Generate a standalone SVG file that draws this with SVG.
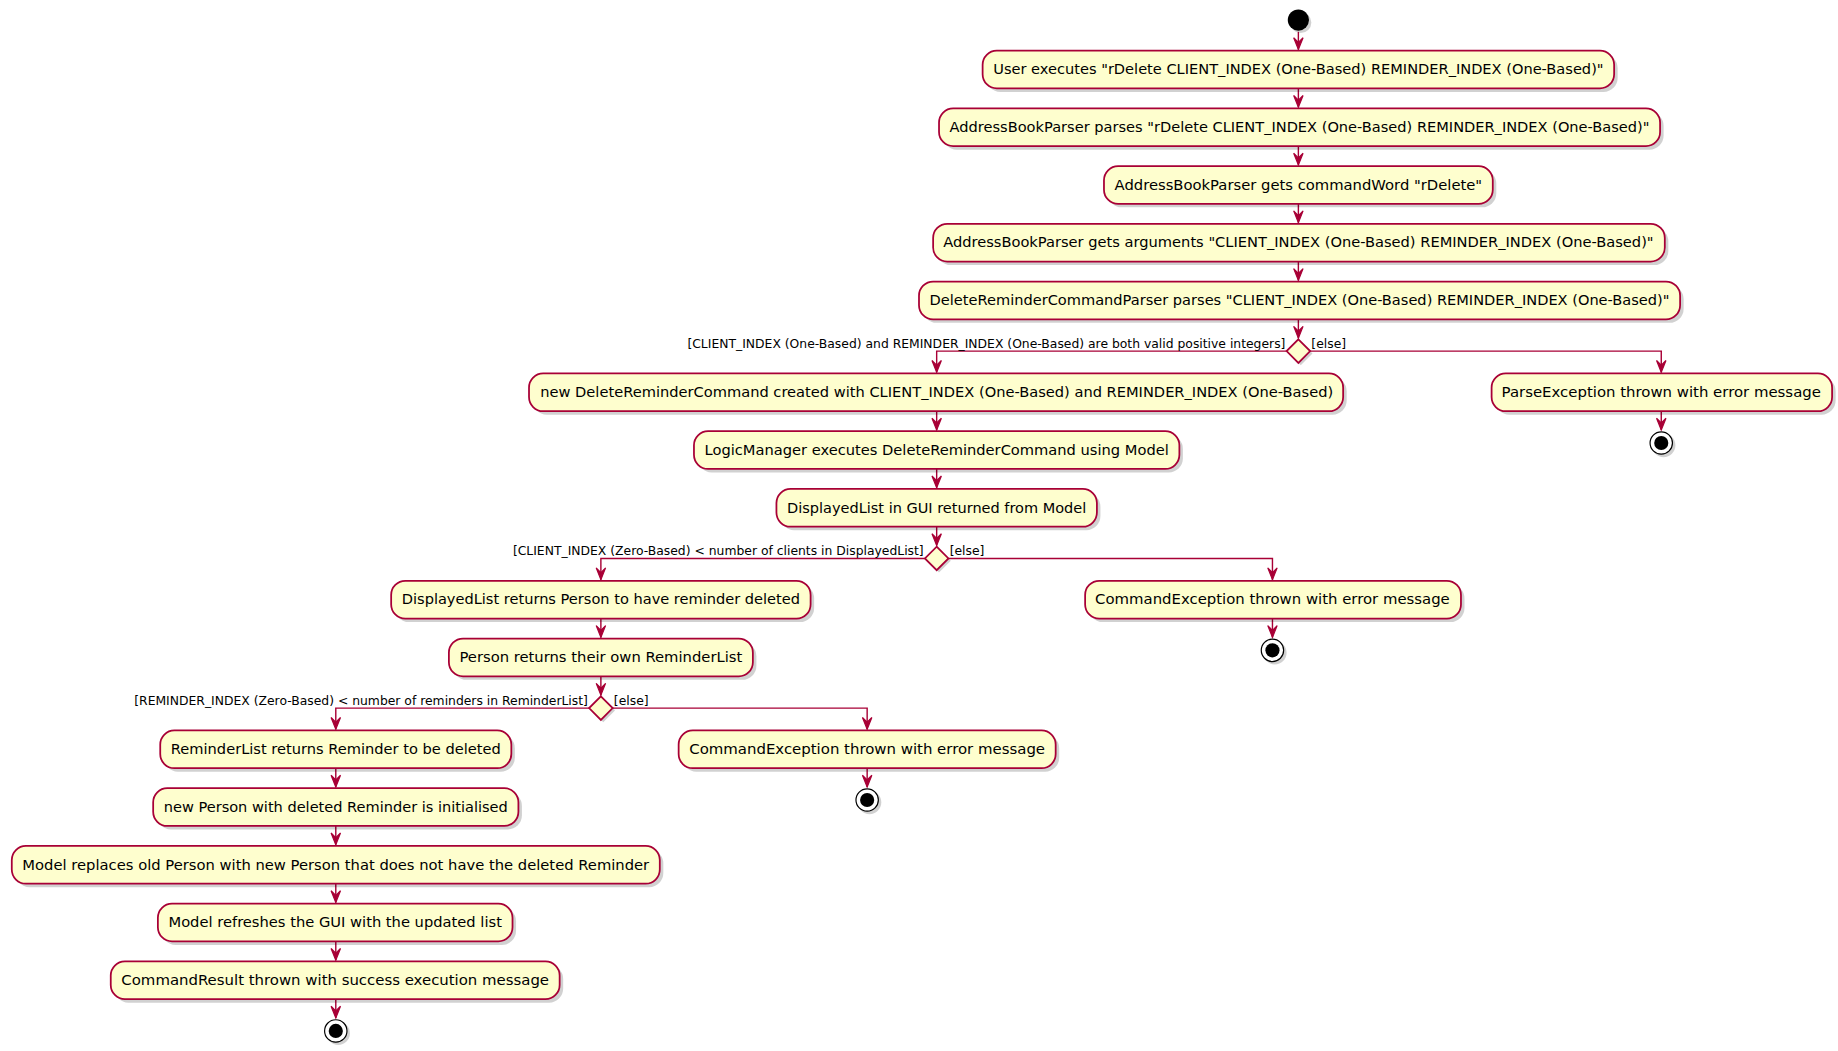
<svg xmlns="http://www.w3.org/2000/svg" width="1838" height="1051" viewBox="0 0 1838 1051">
<defs>
<style>
.b{fill:#FEFECE;stroke:#A80036;stroke-width:1.5}
.s{fill:#000;opacity:0.18}
.t{font-family:"DejaVu Sans",sans-serif;font-size:12px;fill:#000;text-anchor:middle}
.l{font-family:"DejaVu Sans",sans-serif;font-size:10.5px;fill:#000}
.c{fill:none;stroke:#A80036;stroke-width:1.2}
</style>
<marker id="a" viewBox="-11 -5 12 10" refX="0" refY="0" markerWidth="12" markerHeight="10" markerUnits="userSpaceOnUse" orient="auto">
<path d="M-10,-4 L0,0 L-10,4 L-6,0 Z" fill="#A80036" stroke="#A80036"/>
</marker>
</defs>
<rect width="1838" height="1051" fill="#fff"/>
<g transform="scale(1.1782)">
<g id="connectors">
<path class="c" d="M1102,27 V42" marker-end="url(#a)"/>
<path class="c" d="M1102,75 V91" marker-end="url(#a)"/>
<path class="c" d="M1102,124 V140" marker-end="url(#a)"/>
<path class="c" d="M1102,173 V189" marker-end="url(#a)"/>
<path class="c" d="M1102,222 V238" marker-end="url(#a)"/>
<path class="c" d="M1102,271 V287" marker-end="url(#a)"/>
<path class="c" d="M1092,298 H795 V316" marker-end="url(#a)"/>
<path class="c" d="M1112,298 H1410 V316" marker-end="url(#a)"/>
<path class="c" d="M1410,349 V365" marker-end="url(#a)"/>
<path class="c" d="M795,349 V365" marker-end="url(#a)"/>
<path class="c" d="M795,398 V414" marker-end="url(#a)"/>
<path class="c" d="M795,447 V463" marker-end="url(#a)"/>
<path class="c" d="M785,474 H510 V492" marker-end="url(#a)"/>
<path class="c" d="M805,474 H1080 V492" marker-end="url(#a)"/>
<path class="c" d="M1080,525 V541" marker-end="url(#a)"/>
<path class="c" d="M510,525 V541" marker-end="url(#a)"/>
<path class="c" d="M510,574 V590" marker-end="url(#a)"/>
<path class="c" d="M500,601 H285 V619" marker-end="url(#a)"/>
<path class="c" d="M520,601 H736 V619" marker-end="url(#a)"/>
<path class="c" d="M736,652 V668" marker-end="url(#a)"/>
<path class="c" d="M285,652 V668" marker-end="url(#a)"/>
<path class="c" d="M285,701 V717" marker-end="url(#a)"/>
<path class="c" d="M285,750 V766" marker-end="url(#a)"/>
<path class="c" d="M285,799 V815" marker-end="url(#a)"/>
<path class="c" d="M285,848 V864" marker-end="url(#a)"/>
<text class="l" x="1091" y="295" text-anchor="end">[CLIENT_INDEX (One-Based) and REMINDER_INDEX (One-Based) are both valid positive integers]</text>
<text class="l" x="1113" y="295">[else]</text>
<text class="l" x="784" y="471" text-anchor="end">[CLIENT_INDEX (Zero-Based) &lt; number of clients in DisplayedList]</text>
<text class="l" x="806" y="471">[else]</text>
<text class="l" x="499" y="598" text-anchor="end">[REMINDER_INDEX (Zero-Based) &lt; number of reminders in ReminderList]</text>
<text class="l" x="521" y="598">[else]</text>
</g>
<g id="start"><circle cx="1104" cy="19" r="9" class="s"/><circle cx="1102" cy="17" r="9" fill="#000"/></g>
<g id="n1"><rect class="s" x="837" y="46" width="536" height="32" rx="12"/><rect class="b" x="834" y="43" width="536" height="32" rx="12"/><text class="t" x="1102" y="63" textLength="518" lengthAdjust="spacingAndGlyphs">User executes "rDelete CLIENT_INDEX (One-Based) REMINDER_INDEX (One-Based)"</text></g>
<g id="n2"><rect class="s" x="800" y="95" width="612" height="32" rx="12"/><rect class="b" x="797" y="92" width="612" height="32" rx="12"/><text class="t" x="1103" y="112" textLength="594" lengthAdjust="spacingAndGlyphs">AddressBookParser parses "rDelete CLIENT_INDEX (One-Based) REMINDER_INDEX (One-Based)"</text></g>
<g id="n3"><rect class="s" x="940" y="144" width="330" height="32" rx="12"/><rect class="b" x="937" y="141" width="330" height="32" rx="12"/><text class="t" x="1102" y="161" textLength="312" lengthAdjust="spacingAndGlyphs">AddressBookParser gets commandWord "rDelete"</text></g>
<g id="n4"><rect class="s" x="795" y="193" width="621" height="32" rx="12"/><rect class="b" x="792" y="190" width="621" height="32" rx="12"/><text class="t" x="1102" y="210" textLength="603" lengthAdjust="spacingAndGlyphs">AddressBookParser gets arguments "CLIENT_INDEX (One-Based) REMINDER_INDEX (One-Based)"</text></g>
<g id="n5"><rect class="s" x="783" y="242" width="646" height="32" rx="12"/><rect class="b" x="780" y="239" width="646" height="32" rx="12"/><text class="t" x="1103" y="259" textLength="628" lengthAdjust="spacingAndGlyphs">DeleteReminderCommandParser parses "CLIENT_INDEX (One-Based) REMINDER_INDEX (One-Based)"</text></g>
<g id="d1"><path class="s" d="M1104,290 L1114,300 L1104,310 L1094,300 Z"/><path class="b" d="M1102,288 L1112,298 L1102,308 L1092,298 Z"/></g>
<g id="n6"><rect class="s" x="452" y="320" width="691" height="32" rx="12"/><rect class="b" x="449" y="317" width="691" height="32" rx="12"/><text class="t" x="795" y="337" textLength="673" lengthAdjust="spacingAndGlyphs">new DeleteReminderCommand created with CLIENT_INDEX (One-Based) and REMINDER_INDEX (One-Based)</text></g>
<g id="n7"><rect class="s" x="1269" y="320" width="289" height="32" rx="12"/><rect class="b" x="1266" y="317" width="289" height="32" rx="12"/><text class="t" x="1410" y="337" textLength="271" lengthAdjust="spacingAndGlyphs">ParseException thrown with error message</text></g>
<g id="stop1"><circle cx="1412" cy="378" r="10" class="s"/><circle cx="1410" cy="376" r="9.5" fill="#fff" stroke="#000" stroke-width="1"/><circle cx="1410" cy="376" r="6" fill="#000"/></g>
<g id="n8"><rect class="s" x="592" y="369" width="412" height="32" rx="12"/><rect class="b" x="589" y="366" width="412" height="32" rx="12"/><text class="t" x="795" y="386" textLength="394" lengthAdjust="spacingAndGlyphs">LogicManager executes DeleteReminderCommand using Model</text></g>
<g id="n9"><rect class="s" x="662" y="418" width="272" height="32" rx="12"/><rect class="b" x="659" y="415" width="272" height="32" rx="12"/><text class="t" x="795" y="435" textLength="254" lengthAdjust="spacingAndGlyphs">DisplayedList in GUI returned from Model</text></g>
<g id="d2"><path class="s" d="M797,466 L807,476 L797,486 L787,476 Z"/><path class="b" d="M795,464 L805,474 L795,484 L785,474 Z"/></g>
<g id="n10"><rect class="s" x="335" y="496" width="356" height="32" rx="12"/><rect class="b" x="332" y="493" width="356" height="32" rx="12"/><text class="t" x="510" y="513" textLength="338" lengthAdjust="spacingAndGlyphs">DisplayedList returns Person to have reminder deleted</text></g>
<g id="n11"><rect class="s" x="924" y="496" width="319" height="32" rx="12"/><rect class="b" x="921" y="493" width="319" height="32" rx="12"/><text class="t" x="1080" y="513" textLength="301" lengthAdjust="spacingAndGlyphs">CommandException thrown with error message</text></g>
<g id="stop2"><circle cx="1082" cy="554" r="10" class="s"/><circle cx="1080" cy="552" r="9.5" fill="#fff" stroke="#000" stroke-width="1"/><circle cx="1080" cy="552" r="6" fill="#000"/></g>
<g id="n12"><rect class="s" x="384" y="545" width="258" height="32" rx="12"/><rect class="b" x="381" y="542" width="258" height="32" rx="12"/><text class="t" x="510" y="562" textLength="240" lengthAdjust="spacingAndGlyphs">Person returns their own ReminderList</text></g>
<g id="d3"><path class="s" d="M512,593 L522,603 L512,613 L502,603 Z"/><path class="b" d="M510,591 L520,601 L510,611 L500,601 Z"/></g>
<g id="n13"><rect class="s" x="139" y="623" width="298" height="32" rx="12"/><rect class="b" x="136" y="620" width="298" height="32" rx="12"/><text class="t" x="285" y="640" textLength="280" lengthAdjust="spacingAndGlyphs">ReminderList returns Reminder to be deleted</text></g>
<g id="n14"><rect class="s" x="579" y="623" width="320" height="32" rx="12"/><rect class="b" x="576" y="620" width="320" height="32" rx="12"/><text class="t" x="736" y="640" textLength="302" lengthAdjust="spacingAndGlyphs">CommandException thrown with error message</text></g>
<g id="stop3"><circle cx="738" cy="681" r="10" class="s"/><circle cx="736" cy="679" r="9.5" fill="#fff" stroke="#000" stroke-width="1"/><circle cx="736" cy="679" r="6" fill="#000"/></g>
<g id="n15"><rect class="s" x="133" y="672" width="310" height="32" rx="12"/><rect class="b" x="130" y="669" width="310" height="32" rx="12"/><text class="t" x="285" y="689" textLength="292" lengthAdjust="spacingAndGlyphs">new Person with deleted Reminder is initialised</text></g>
<g id="n16"><rect class="s" x="13" y="721" width="550" height="32" rx="12"/><rect class="b" x="10" y="718" width="550" height="32" rx="12"/><text class="t" x="285" y="738" textLength="532" lengthAdjust="spacingAndGlyphs">Model replaces old Person with new Person that does not have the deleted Reminder</text></g>
<g id="n17"><rect class="s" x="137" y="770" width="301" height="32" rx="12"/><rect class="b" x="134" y="767" width="301" height="32" rx="12"/><text class="t" x="284.500" y="787" textLength="283" lengthAdjust="spacingAndGlyphs">Model refreshes the GUI with the updated list</text></g>
<g id="n18"><rect class="s" x="97" y="819" width="381" height="32" rx="12"/><rect class="b" x="94" y="816" width="381" height="32" rx="12"/><text class="t" x="284.500" y="836" textLength="363" lengthAdjust="spacingAndGlyphs">CommandResult thrown with success execution message</text></g>
<g id="stop4"><circle cx="287" cy="877" r="10" class="s"/><circle cx="285" cy="875" r="9.5" fill="#fff" stroke="#000" stroke-width="1"/><circle cx="285" cy="875" r="6" fill="#000"/></g>
</g>
</svg>
